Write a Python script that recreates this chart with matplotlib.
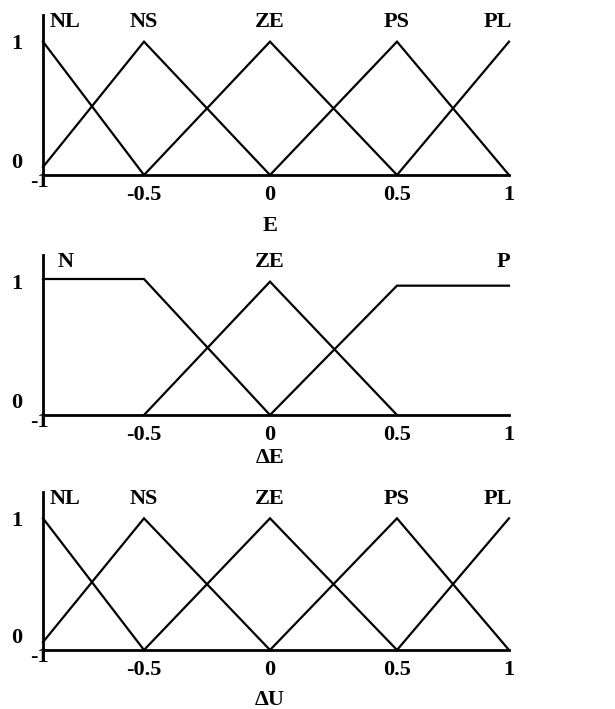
import matplotlib
matplotlib.use("Agg")
import matplotlib.pyplot as plt
import numpy as np

plt.rcParams['font.family'] = ['Liberation Serif', 'DejaVu Serif']
plt.rcParams['font.weight'] = 'bold'

# tick values along the universe of discourse
tick_vals = [-1, -0.5, 0, 0.5, 1]
tick_labels = ['-1', '-0.5', '0', '0.5', '1']
# the source drawing is not evenly spaced; these are where the ticks sit (pixels)
tick_pix = [43, 144, 270, 397, 509]

# E membership functions
e_names = ['NL', 'NS', 'ZE', 'PS', 'PL']
e_label_x = [-0.89, -0.5, 0, 0.5, 0.95]
e_x = [[-1, -0.5], [-1, -0.5, 0], [-0.5, 0, 0.5], [0, 0.5, 1], [0.5, 1]]
e_y = [[1, 0], [0.06, 1, 0], [0, 1, 0], [0, 1, 0], [0, 1]]

# dE membership functions
de_names = ['N', 'ZE', 'P']
de_label_x = [-0.886, 0, 0.973]
de_x = [[-1, -0.5, 0], [-0.5, 0, 0.5], [0, 0.5, 1]]
de_y = [[1.02, 1.02, 0], [0, 1, 0], [0, 0.97, 0.97]]

# dU membership functions (same as E)
du_names = ['NL', 'NS', 'ZE', 'PS', 'PL']
du_label_x = [-0.89, -0.5, 0, 0.5, 0.95]
du_x = e_x
du_y = e_y

panels = [
    (e_names, e_label_x, e_x, e_y, 'E', 51),
    (de_names, de_label_x, de_x, de_y, '\u0394E', 43),
    (du_names, du_label_x, du_x, du_y, '\u0394U', 50),
]

W, H = 615, 709
# (baseline y, top y) of each panel in pixels
rows = [(175, 15), (415, 255), (650, 492)]

fig = plt.figure(figsize=(W / 100, H / 100), dpi=100)

fwd = lambda x: np.interp(x, tick_vals, tick_pix)
inv = lambda p: np.interp(p, tick_pix, tick_vals)

FS = 16
for (names, lab_x, xs, ys, xlabel, xl_off), (base, top) in zip(panels, rows):
    ax = fig.add_axes([43 / W, (H - base) / H, (509 - 43) / W, (base - top) / H])
    ax.set_xscale('function', functions=(fwd, inv))
    ax.set_xlim(-1, 1)
    ax.set_ylim(0, 1.2)
    for x, y in zip(xs, ys):
        ax.plot(x, y, color='black', lw=1.6, clip_on=False, solid_joinstyle='miter')
    for name, lx in zip(names, lab_x):
        ax.text(lx, 1.15, name, ha='center', va='center', fontsize=FS, fontweight='bold')

    ax.spines['top'].set_visible(False)
    ax.spines['right'].set_visible(False)
    for s in ('left', 'bottom'):
        ax.spines[s].set_linewidth(2.0)
    ax.tick_params(length=0)
    ax.set_xticks(tick_vals[1:], tick_labels[1:], fontsize=FS, fontweight='bold')
    ax.xaxis.set_minor_locator(matplotlib.ticker.NullLocator())
    ax.tick_params(axis='x', pad=7)
    ax.set_yticks([1], ['1'], fontsize=FS, fontweight='bold')
    ax.tick_params(axis='y', pad=19)
    for lab in ax.get_yticklabels():
        lab.set_horizontalalignment('center')

    # corner labels
    ax.annotate('0', xy=(-1, 0), xytext=(-26, 12), textcoords='offset pixels',
                ha='center', va='center', fontsize=FS, fontweight='bold',
                annotation_clip=False)
    ax.annotate('-1', xy=(-1, 0), xytext=(-4, -7), textcoords='offset pixels',
                ha='center', va='center', fontsize=FS, fontweight='bold',
                annotation_clip=False)
    ax.annotate(xlabel, xy=(0, 0), xytext=(0, -xl_off), textcoords='offset pixels',
                ha='center', va='center', fontsize=FS, fontweight='bold',
                annotation_clip=False)

fig.savefig('out.png', dpi=100)
